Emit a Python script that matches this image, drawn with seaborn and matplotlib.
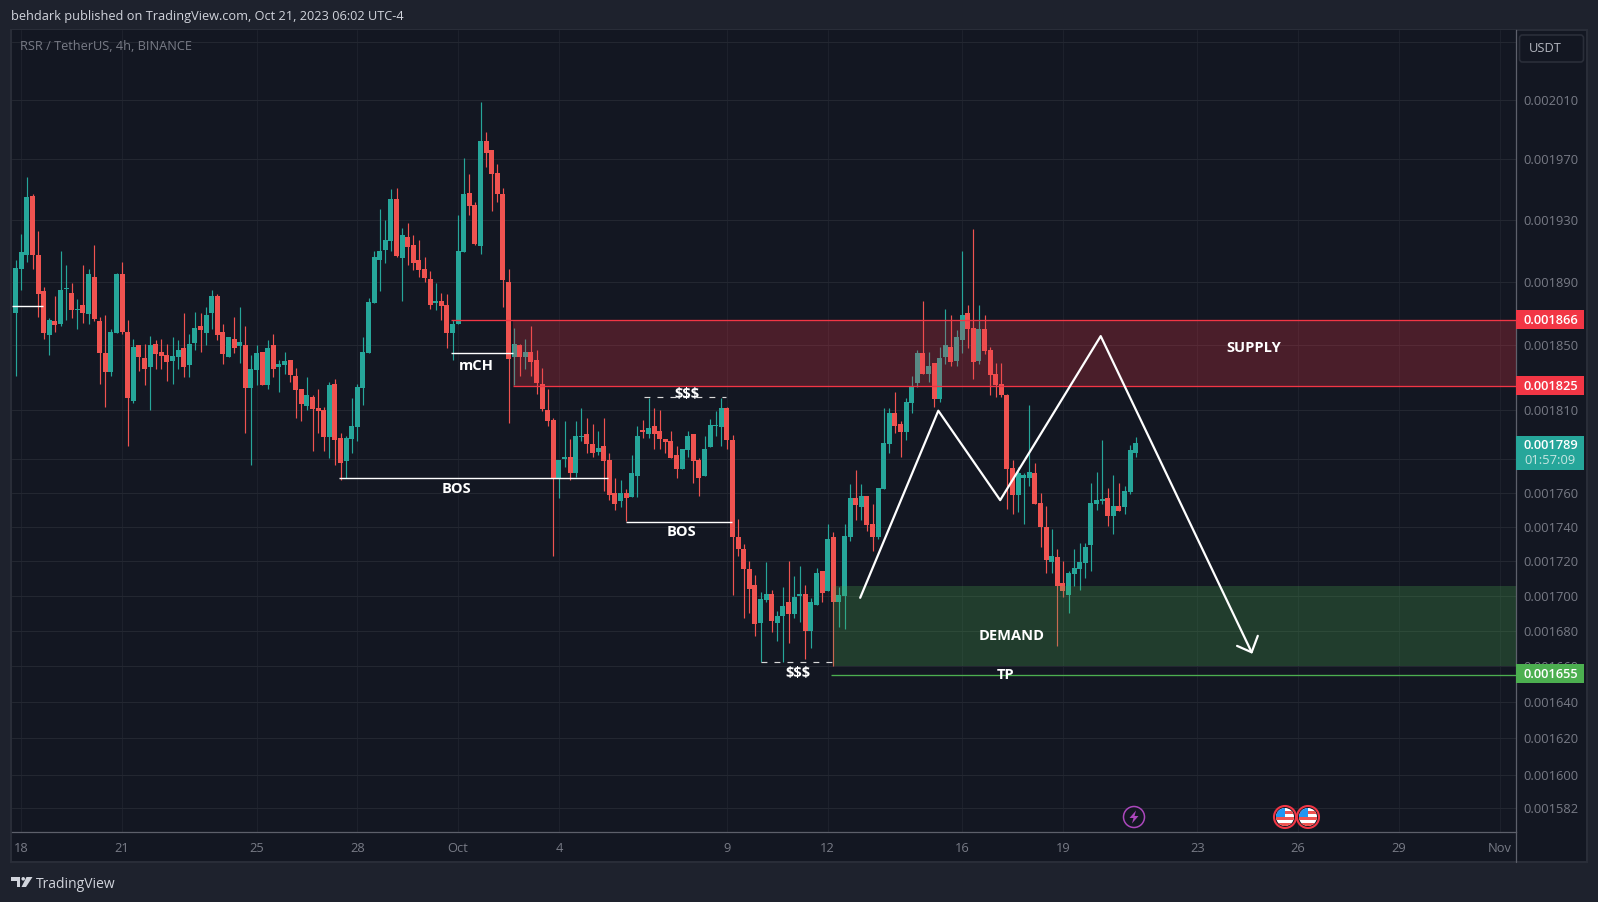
import numpy as np
import pandas as pd
import matplotlib
matplotlib.use("Agg")
import matplotlib.pyplot as plt
import seaborn as sns
from matplotlib.patches import Rectangle, Circle, Polygon, FancyBboxPatch
from matplotlib.ticker import NullLocator

# candle values in 1e-6 USDT, first bar is one 4h step before Sep 18 00:00
opens = [1870.1,1898.6,1907.6,1946,1907.6,1884.5,1856.6,1865.4,1863.5,1885.8,
    1883.2,1872.4,1875.6,1869.9,1893.4,1865.4,1845.3,1833.6,1857.8,1895.4,
    1858.5,1815.7,1850.2,1842.2,1836.7,1850.8,1845.9,1844,1840.3,1842.8,
    1848.4,1837.9,1851.5,1862.3,1857.8,1870.5,1881.3,1858.5,1842.8,1854,
    1849.6,1850.2,1823.7,1834.8,1845.9,1825.6,1850.2,1836.7,1837.9,1841,
    1831.1,1823.1,1812.7,1818.2,1811.4,1810.2,1793.8,1826.2,1793.2,1778.8,
    1792.6,1799.8,1823.7,1845.3,1876.9,1904.4,1910.9,1916.7,1944,1905.7,
    1919.2,1914.1,1904.4,1898.6,1892.2,1876.9,1878.1,1875.6,1857.8,1863.5,
    1909.6,1947.9,1940.1,1913.4,1982,1976.1,1961,1947.3,1890.2,1842.8,
    1850.2,1842.8,1845.9,1841,1826.2,1810.2,1804,1768,1780,1781.2,
    1771.6,1793.8,1795.6,1789.6,1784.8,1788.4,1779.4,1760.2,1754.9,1760.2,
    1757.8,1769.8,1798,1795.6,1800.4,1797.4,1792.6,1791.4,1782.4,1774,
    1786,1795.6,1779.4,1769.8,1787.8,1800.4,1799.8,1811.4,1791.5,1733.7,
    1727.2,1715.5,1706.1,1684.3,1697.4,1700.8,1684.3,1688.3,1696.2,1689.4,
    1699.6,1700.8,1679.8,1694.5,1714.3,1702.5,1733.7,1696.2,1699.6,1733.7,
    1757.2,1751.9,1758.4,1741.4,1733.7,1762.6,1789.1,1808.4,1801.2,1796.9,
    1814.5,1826.8,1845.3,1832.3,1839.1,1817,1842.8,1849,1840.3,1853.4,
    1870.5,1861,1840.3,1860.4,1847.1,1832.3,1826.2,1819.4,1774.7,1759,
    1768.6,1768.6,1771.6,1754.3,1739.6,1719.6,1722.5,1707.3,1700.2,1712.5,
    1715.5,1719,1729,1753.7,1754.9,1757.2,1746.6,1752.5,1751.9,1760.8,1783.7]
highs = [1904.4,1921.2,1958.2,1947.3,1923.1,1887,1867.4,1881.3,1910.2,1901.2,
    1889.6,1879.4,1901.2,1898.6,1914.1,1868,1869.3,1860.4,1896,1903.1,
    1866.1,1854,1850.2,1850.8,1855.9,1853.4,1854,1850.8,1855.3,1853.4,
    1870.5,1857.2,1871.2,1870.5,1874.3,1885.1,1882.6,1863.5,1855.3,1868,
    1874.3,1862.3,1844,1850.2,1845.9,1853.4,1857.2,1841,1845.9,1841,
    1836,1823.1,1830.5,1819.4,1823.1,1812.1,1827.4,1829.3,1796.2,1794.4,
    1817.6,1826.2,1855.3,1880,1910.2,1937.4,1930.2,1950.5,1951.2,1925,
    1928.3,1920.5,1917.3,1906.3,1897.3,1889.6,1883.2,1882.6,1866.1,1933.5,
    1970.9,1960.4,1942,2008.3,1988.6,1976.1,1966.9,1951.2,1898.6,1861,
    1850.8,1854,1862.3,1847.1,1836,1823.1,1805.2,1779.4,1803.4,1792.6,
    1803.4,1811.4,1805.2,1801.6,1797.4,1805.2,1783.6,1768.6,1767.4,1762.6,
    1782.4,1800.4,1804,1817.6,1811.4,1810.2,1792.6,1797.4,1788.4,1786.6,
    1797.4,1795.6,1780.6,1794.4,1804.6,1809.6,1817.6,1812.1,1794.5,1744.3,
    1729.6,1720.2,1712,1702,1719.6,1703.1,1691.1,1704.9,1720.2,1711.4,
    1717.2,1706.1,1698.5,1716.1,1714.3,1741.4,1736.7,1704.9,1741.4,1765.6,
    1773.5,1765.6,1758.4,1753.7,1763.2,1811.4,1811.4,1821.3,1803.6,1817.6,
    1831.1,1847.1,1878.1,1845.9,1839.1,1849,1873.1,1869.3,1859.7,1910.2,
    1875.6,1924.4,1875.6,1869.3,1849,1839.1,1839.1,1820,1779.5,1775.3,
    1771.6,1813.3,1777.7,1760.2,1752.5,1738.4,1726.7,1720.2,1714.3,1727.2,
    1730.2,1730.2,1766.2,1772.2,1791.5,1763.2,1770.4,1766.2,1764.4,1788.5,1793.3]
lows = [1830.7,1885.1,1903.1,1898.6,1868,1854,1844.1,1858.5,1862.3,1866.1,
    1867.4,1860.4,1864.2,1863.5,1865.4,1826.2,1812.1,1831.1,1857.8,1857.2,
    1788.4,1814.5,1834.2,1825.6,1810.2,1835.4,1835.4,1828,1826.2,1835.4,
    1830.5,1830.5,1847.1,1845.9,1850.2,1860.4,1853.4,1838.5,1842.8,1845.3,
    1839.1,1796.2,1776.4,1825.6,1825.6,1823.1,1830.5,1821.3,1832.3,1827.4,
    1805.2,1803.4,1810.2,1785.4,1796.2,1785.4,1780.6,1776.4,1767.4,1768.6,
    1784.2,1791.4,1813.3,1845.3,1876.9,1884.5,1902.5,1910.2,1906.3,1878.1,
    1901.2,1898,1893.4,1890.2,1873,1872.4,1866.1,1848.4,1841,1863.5,
    1909.6,1933.5,1914.1,1908.3,1965,1936.1,1942,1874.3,1802.2,1825.6,
    1831.1,1835.4,1831.1,1820,1809.6,1800.4,1722.6,1756.7,1775.2,1767.4,
    1769.2,1791.4,1783.6,1781.2,1782.4,1761.4,1755.5,1749.6,1751.9,1743.1,
    1757.8,1757.3,1793.2,1793.2,1786.6,1786.6,1784.2,1780.6,1768.6,1774,
    1781.2,1766.2,1758.4,1769.8,1787.8,1794.4,1788.4,1786.6,1700.2,1723.1,
    1687.2,1689.8,1677,1662.3,1696.2,1679.2,1674.2,1662.3,1673,1687.2,
    1684.9,1664,1670.2,1694.5,1696.2,1702.5,1660,1682.1,1680.9,1731.4,
    1743.7,1743.7,1737.2,1725.5,1732.5,1762.6,1783.7,1796.3,1781.3,1791.5,
    1808.4,1824.4,1832.3,1827.4,1812.1,1815.1,1838.5,1837.3,1837.3,1845.3,
    1848.6,1829.3,1838.5,1844.6,1819.4,1818.2,1818.2,1750.2,1747.3,1748.4,
    1741.4,1764.4,1753.7,1728.4,1713.1,1713.1,1671.3,1699.1,1690,1705.5,
    1703.1,1710.2,1714.3,1749.6,1753.7,1740.2,1735.5,1749,1747.2,1759.6,1781.3]
closes = [1899.2,1909.6,1945.3,1907.6,1882.6,1857.8,1866.1,1862.9,1885.1,1886.4,
    1872.4,1873,1870.5,1895.4,1866.7,1845.3,1833.6,1858.5,1895.4,1858.5,
    1817.6,1849,1842.8,1835.4,1850.2,1844.6,1843.4,1839.7,1843.4,1847.1,
    1836.7,1850.8,1861,1859.7,1869.3,1881.3,1856.6,1844.6,1855.3,1848.4,
    1852.1,1823.7,1835.4,1845.3,1825.6,1848.4,1835.4,1838.5,1840.3,1831.7,
    1822.5,1813.9,1819.4,1810.8,1809.6,1793.8,1825.6,1792,1777.6,1793.2,
    1800.4,1824.4,1845.9,1877.5,1906.3,1910.2,1917.3,1944,1907,1920.5,
    1912.8,1902.5,1898,1892.8,1875.6,1878.1,1875,1857.8,1863.5,1910.2,
    1947.3,1939.4,1914.7,1982,1974.2,1960.4,1947.3,1891.5,1841.6,1850.8,
    1842.8,1845.9,1839.7,1826.8,1810.8,1803.4,1768,1779.4,1781.2,1771.6,
    1794.4,1794.4,1789.6,1783.6,1787.2,1778.8,1759,1753.7,1760.2,1756.7,
    1771.6,1794.4,1796.8,1799.2,1795.6,1792.6,1790.8,1780.6,1774,1786.6,
    1794.4,1778.8,1768.6,1786.6,1801,1801,1811.4,1792,1733.7,1726.7,
    1715.5,1703.7,1683.8,1697.9,1700.8,1685.5,1688.3,1694,1689.4,1699,
    1700.8,1679.8,1696.2,1713.1,1701.4,1732.5,1696.2,1700.2,1734.3,1757.2,
    1753.1,1758.4,1740.8,1733.7,1763.2,1789.7,1808.4,1800,1796.9,1815.1,
    1825,1845.3,1832.3,1837.3,1817,1842.2,1850.2,1839.7,1855.3,1869.3,
    1860.4,1839.7,1860.4,1846.5,1831.7,1825.6,1819.4,1774.1,1759,1771.6,
    1770.4,1772.2,1753.7,1739.6,1720.8,1723.1,1705.5,1702.5,1713.1,1716.1,
    1719.6,1728.4,1754.3,1755.5,1756.6,1746.6,1752.5,1749,1761.4,1785.5,1789.7]

# axis ticks, the 2050 and 1780 lines have no visible label
price_ticks = [2050,2010,1970,1930,1890,1850,1810,1780,1760,1740,1720,1700,1680,1660,1640,1620,1600,1582]
hidden_labels = [2050, 1780]
day_ticks = [0,18,42,60,78,96,126,144,168,186,210,228,246,264]
day_labels = ["18","21","25","28","Oct","4","9","12","16","19","23","26","29","Nov"]

# drawn levels, in 1e-6 USDT
supply_top, supply_bottom = 1866, 1825
demand_top, demand_bottom = 1705.5, 1660
tp_level = 1655
last_price = 1789

# hand drawn lines: bars and prices
zigzag_x = [149.8,163.75,174.8,192.75,219.7]
zigzag_y = [1698.7,1809.6,1755.7,1855.8,1667.7]
arrow_x = [217.1,219.7,220.8]
arrow_y = [1671.3,1667.7,1677]
level_lines = [(-1.7,3.9,1874.5),(56.8,104.7,1768.6),(76.7,87.8,1845),(107.9,126.9,1743)]
dash_lines = [(111.2,125.8,1817.7),(132,144.9,1662)]

BG = "#131722"
OUTER = "#1e222d"
TEAL = "#26a69a"
RED = "#ef5350"
LABEL_RED = "#f23645"
GREEN = "#4caf50"
MUTED = "#787b86"

sns.set_theme(style="dark", rc={"axes.facecolor": BG, "figure.facecolor": OUTER})
plt.rcParams["font.family"] = ["Open Sans", "DejaVu Sans"]

df = pd.DataFrame({"bar": np.arange(-1, 200), "open": opens, "high": highs, "low": lows, "close": closes})
df["color"] = np.where(df["close"] >= df["open"], TEAL, RED)

fig = plt.figure(figsize=(15.98, 9.02), dpi=100)

# outer frame, drawn in pixels
bg = fig.add_axes([0, 0, 1, 1], zorder=-1)
bg.set_xlim(0, 1598)
bg.set_ylim(902, 0)
bg.axis("off")
bg.add_patch(Rectangle((11, 30), 1576, 832, fc=BG, ec="#2a2e39", lw=1.4))

ax = fig.add_axes([11.5 / 1598, 70 / 902, 1504 / 1598, 802 / 902], zorder=1)
ax.set_facecolor(BG)
ax.set_yscale("log")

scale = 1e-6
ax.vlines(df["bar"], df["low"] * scale, df["high"] * scale, colors=df["color"], lw=0.85, zorder=2)
ax.bar(df["bar"], (df["close"] - df["open"]).abs() * scale, bottom=df[["open", "close"]].min(axis=1) * scale,
       width=0.92, color=df["color"], linewidth=0, zorder=2)

# zones
right_bar = 266.82
ax.fill_between([87.8, right_bar], supply_bottom * scale, supply_top * scale, color=LABEL_RED, alpha=0.25, lw=0, zorder=3)
ax.fill_between([144.9, right_bar], demand_bottom * scale, demand_top * scale, color=GREEN, alpha=0.25, lw=0, zorder=3)
ax.hlines(supply_top * scale, 76.7, right_bar, color=LABEL_RED, lw=0.95, zorder=4)
ax.hlines(supply_bottom * scale, 87.8, right_bar, color=LABEL_RED, lw=0.95, zorder=4)
ax.hlines(tp_level * scale, 144.6, right_bar, color=GREEN, lw=0.95, zorder=4)

for x0, x1, y in level_lines:
    ax.hlines(y * scale, x0, x1, color="white", lw=1.0, zorder=4)
for x0, x1, y in dash_lines:
    ax.hlines(y * scale, x0, x1, color="#d8d8d8", lw=0.85, linestyles=(0, (5, 6)), zorder=4)

sns.lineplot(x=zigzag_x, y=np.array(zigzag_y) * scale, ax=ax, color="white", lw=1.6, estimator=None, sort=False, zorder=5, legend=False)
sns.lineplot(x=arrow_x, y=np.array(arrow_y) * scale, ax=ax, color="white", lw=1.6, estimator=None, sort=False, zorder=5, legend=False)

# text on the chart
notes = [("mCH", 81.2, 1837.4), ("BOS", 77.7, 1762.5), ("BOS", 117.9, 1737.1), ("$$$", 118.8, 1819.8),
         ("$$$", 138.7, 1655.9), ("SUPPLY", 220, 1848.5), ("DEMAND", 176.8, 1676.9), ("TP", 175.8, 1655.2)]
for txt, x, y in notes:
    ax.text(x, y * scale, txt, color="white", fontsize=10.5, fontweight="bold", ha="center", va="center", zorder=6)

ax.set_xlim(-1.75, right_bar)
ax.set_ylim(1569.4 * scale, 2058.1 * scale)
ax.set_xlabel("")
ax.set_ylabel("")
ax.yaxis.tick_right()
ax.yaxis.set_minor_locator(NullLocator())
ax.set_yticks([p * scale for p in price_ticks],
              ["" if p in hidden_labels else f"{p * scale:.6f}" for p in price_ticks])
ax.set_xticks(day_ticks, day_labels)
ax.tick_params(axis="y", length=0, pad=6, labelsize=9.3, labelcolor=MUTED)
ax.tick_params(axis="x", length=0, pad=7.5, labelsize=9.3, labelcolor=MUTED)
ax.grid(True, axis="y", color="#232731", lw=0.8, zorder=0)
ax.grid(True, axis="x", color="#1d212c", lw=0.8, zorder=0)
ax.set_axisbelow(True)
for side in ["top", "left"]:
    ax.spines[side].set_visible(False)
for side in ["right", "bottom"]:
    ax.spines[side].set_color("#5d606b")
    ax.spines[side].set_linewidth(0.9)

# things on top of the axes, drawn in pixels
top = fig.add_axes([0, 0, 1, 1], zorder=5)
top.set_xlim(0, 1598)
top.set_ylim(902, 0)
top.axis("off")
top.patch.set_alpha(0)
top.plot([1515.5, 1515.5], [832, 862], color="#5d606b", lw=0.9)

def price_y(p):
    return 902 - ax.transData.transform((0, p * scale))[1]

def price_box(p, color, text, h=19):
    y = price_y(p)
    top.add_patch(Rectangle((1516, y - h / 2), 68, h, fc=color, ec="none"))
    top.text(1524, y + 0.5, text, color="white", fontsize=9.3, fontweight="semibold", va="center", ha="left")

price_box(supply_top, LABEL_RED, "0.001866")
price_box(supply_bottom, LABEL_RED, "0.001825")
price_box(tp_level + 0.5, GREEN, "0.001655")
y_last = price_y(last_price)
top.add_patch(Rectangle((1516, y_last - 8.5), 68, 34, fc=TEAL, ec="none"))
top.text(1524, y_last + 0.5, "0.001789", color="white", fontsize=9.3, fontweight="semibold", va="center")
top.text(1524, y_last + 16, "01:57:09", color="#c8e6e2", fontsize=9.3, va="center")

top.add_patch(FancyBboxPatch((1519.5, 35), 64, 27, boxstyle="round,pad=0,rounding_size=3", fc=BG, ec="#2a2e39", lw=1.2))
top.text(1529, 48.5, "USDT", color="#b2b5be", fontsize=9.3, va="center")

top.text(11, 16.5, "behdark published on TradingView.com, Oct 21, 2023 06:02 UTC-4", color="#d1d4dc", fontsize=9.15, va="center")
top.text(20, 47, "RSR / TetherUS, 4h, BINANCE", color=MUTED, fontsize=9.2, va="center")
top.text(36, 885, "TradingView", color="#d1d4dc", fontsize=10, va="center")

# logo
logo = "#d1d4dc"
top.add_patch(Polygon([(11, 877), (20, 877), (20, 887), (16.5, 887), (16.5, 880.5), (11, 880.5)], fc=logo, ec="none"))
top.add_patch(Circle((23.2, 878.8), 1.8, fc=logo, ec="none"))
top.add_patch(Polygon([(26.5, 877), (32.5, 877), (26, 887), (21.5, 887)], fc=logo, ec="none"))

# events at the bottom
top.add_patch(Circle((1134, 817), 10.5, fc=BG, ec="#ab47bc", lw=1.1))
top.add_patch(Polygon([(1136, 810.5), (1129.5, 818), (1133.5, 818), (1132, 823.5), (1138.5, 816), (1134.5, 816)], fc="#ab47bc", ec="none"))
for cx in [1285, 1308]:
    clip = Circle((cx, 817), 9, transform=top.transData)
    top.add_patch(Circle((cx, 817), 11, fc=BG, ec=LABEL_RED, lw=1.5))
    for y0, h, c in [(808, 18, "white"), (811, 3, RED), (817, 3, RED), (823, 3, RED)]:
        r = Rectangle((cx - 9, y0), 18, h, fc=c, ec="none")
        top.add_patch(r)
        r.set_clip_path(clip)
    r = Rectangle((cx - 9, 808), 9, 9, fc="#2196f3", ec="none")
    top.add_patch(r)
    r.set_clip_path(clip)

fig.savefig("out.png", dpi=100)
